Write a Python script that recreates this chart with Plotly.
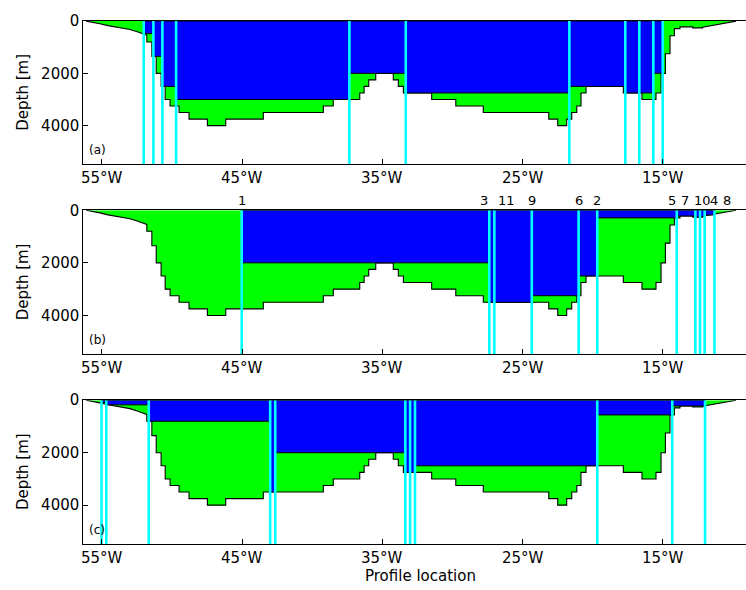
import plotly.graph_objects as go

# ---- bathymetry along the section (longitude in degrees east, depth in m) ----
# sloping western shelf
shelf_w_lon = [-56.13, -55.49, -55.14, -54.57, -53.71, -53.00, -52.43, -52.07, -51.80]
shelf_w_depth = [0, 50, 100, 175, 245, 320, 420, 490, 540]
# stepped basin: step i spans step_lon[i]..step_lon[i+1] at step_depth[i]
step_lon = [-51.80, -51.44, -51.13, -50.78, -50.49, -50.14, -49.50, -48.79, -47.48,
            -46.17, -43.49, -39.21, -38.50, -36.61, -36.30, -35.97, -35.47, -34.22,
            -33.86, -33.50, -31.48, -29.76, -27.80, -23.13, -22.49, -21.85, -21.49,
            -21.13, -20.83, -20.47, -17.81, -16.48, -15.48, -15.12, -14.81, -14.48,
            -14.17, -13.77, -12.86, -12.15]
step_depth = [800, 1350, 2000, 2500, 3000, 3250, 3500, 3750, 4000, 3750,
              3500, 3250, 3000, 2750, 2500, 2250, 2000, 2250, 2500, 2750,
              3000, 3250, 3500, 3750, 4000, 3750, 3500, 3250, 2750, 2500,
              2750, 3000, 2750, 2000, 1250, 560, 290, 220, 260]
# sloping eastern shelf
shelf_e_lon = [-12.15, -10.91, -9.77]
shelf_e_depth = [230, 120, 0]

# ---- profile locations and box depths for the three configurations ----
prof_a = [-52.02, -51.33, -50.69, -49.71, -37.35, -33.33, -21.66, -17.67, -16.67, -15.67, -15.00]
box_a = [480, 1350, 2500, 3000, 2000, 2750, 2500, 2750, 2750, 2000]

prof_b = [-45.03, -27.37, -27.01, -24.34, -21.00, -19.67, -14.00, -12.67, -12.34, -12.01, -11.31]
box_b = [2000, 3500, 3500, 3250, 2500, 290, 220, 260, 240, 180]
labels_b = ["1", "3", "11", "9", "6", "2", "5", "7", "10", "4", "8"]
label_shift_b = [0, -5, 12, 0, 0, 0, -5, -10, 2, 9, 13]

prof_c = [-55.03, -54.69, -51.66, -43.00, -42.64, -33.36, -33.02, -32.67, -19.67, -14.32, -11.98]
box_c = [90, 175, 800, 3500, 2000, 2750, 2750, 2500, 560, 220]

tick_lon = [-55, -45, -35, -25, -15]
tick_text = ["55°W", "45°W", "35°W", "25°W", "15°W"]
depth_ticks = [0, 2000, 4000]

X_RANGE = [-56.33, -9.06]
Y_MAX = 5480
FONT = "DejaVu Sans"

GREEN = "#00FF00"
BLUE = "#0000FF"
CYAN = "#00FFFF"


def bathy_outline():
    xs, ys = list(shelf_w_lon), list(shelf_w_depth)
    for i, d in enumerate(step_depth):
        xs += [step_lon[i], step_lon[i + 1]]
        ys += [d, d]
    xs += shelf_e_lon
    ys += shelf_e_depth
    return xs, ys


def boxes(prof, depths):
    xs, ys = [], []
    for i, d in enumerate(depths):
        x0, x1 = prof[i], prof[i + 1]
        xs += [x0, x1, x1, x0, x0, None]
        ys += [0, 0, d, d, 0, None]
    return xs, ys


def lines(prof):
    xs, ys = [], []
    for p in prof:
        xs += [p, p, None]
        ys += [0, Y_MAX, None]
    return xs, ys


fig = go.Figure()
bx, by = bathy_outline()

panels = [(prof_a, box_a, "(a)"), (prof_b, box_b, "(b)"), (prof_c, box_c, "(c)")]
domains = [[0.7327, 0.9792], [0.4056, 0.6536], [0.0792, 0.3266]]

for k, (prof, depths, tag) in enumerate(panels):
    xa = "x" if k == 0 else f"x{k + 1}"
    ya = "y" if k == 0 else f"y{k + 1}"
    fig.add_trace(go.Scatter(x=bx, y=by, mode="lines", fill="toself",
                             fillcolor=GREEN, line=dict(color="black", width=1.1),
                             xaxis=xa, yaxis=ya, hoverinfo="skip"))
    qx, qy = boxes(prof, depths)
    fig.add_trace(go.Scatter(x=qx, y=qy, mode="lines", fill="toself",
                             fillcolor=BLUE, line=dict(color="black", width=1),
                             xaxis=xa, yaxis=ya, hoverinfo="skip"))
    lx, ly = lines(prof)
    fig.add_trace(go.Scatter(x=lx, y=ly, mode="lines",
                             line=dict(color=CYAN, width=2.6),
                             xaxis=xa, yaxis=ya, hoverinfo="skip"))

    axis_x = dict(domain=[83.3 / 746, 1.0], range=X_RANGE, anchor=ya,
                  showline=True, linecolor="black", linewidth=1, mirror=True,
                  ticks="inside", ticklen=5, tickcolor="black",
                  tickvals=tick_lon, showticklabels=False, showgrid=False,
                  zeroline=False)
    axis_y = dict(domain=domains[k], range=[Y_MAX, 0], anchor=xa,
                  showline=True, linecolor="black", linewidth=1, mirror=False,
                  ticks="inside", ticklen=5, tickcolor="black",
                  tickvals=depth_ticks, showgrid=False, zeroline=False,
                  tickfont=dict(family=FONT, size=15, color="black"))
    fig.update_layout(**{("xaxis" if k == 0 else f"xaxis{k + 1}"): axis_x,
                         ("yaxis" if k == 0 else f"yaxis{k + 1}"): axis_y})

    # longitude tick labels just below the axis
    for lon, txt in zip(tick_lon, tick_text):
        fig.add_annotation(text=txt, x=lon, y=0, xref=xa, yref=f"{ya} domain",
                           xanchor="center", yanchor="middle", yshift=-14,
                           showarrow=False, font=dict(family=FONT, size=15, color="black"))

    fig.add_annotation(text=tag, xref=f"{xa} domain", yref=f"{ya} domain",
                       x=0, y=0, xanchor="left", yanchor="bottom", xshift=4, yshift=5,
                       showarrow=False, font=dict(family=FONT, size=12, color="black"))
    fig.add_annotation(text="Depth [m]", xref="paper", yref="paper",
                       x=23 / 746, y=sum(domains[k]) / 2, textangle=-90,
                       xanchor="center", yanchor="middle", showarrow=False,
                       font=dict(family=FONT, size=15, color="black"))

for lon, lab, sh in zip(prof_b, labels_b, label_shift_b):
    fig.add_annotation(text=lab, x=lon, y=0, xref="x2", yref="y2",
                       xanchor="center", yanchor="bottom", xshift=sh, yshift=0,
                       showarrow=False, font=dict(family=FONT, size=13, color="black"))

fig.add_annotation(text="Profile location", xref="paper", yref="paper",
                   x=420 / 746, y=1 - 576 / 590, xanchor="center", yanchor="middle",
                   showarrow=False, font=dict(family=FONT, size=15, color="black"))

fig.update_layout(width=746, height=590, margin=dict(l=0, r=0, t=0, b=0),
                  paper_bgcolor="white", plot_bgcolor="white", showlegend=False)

fig.write_html("out.html")
